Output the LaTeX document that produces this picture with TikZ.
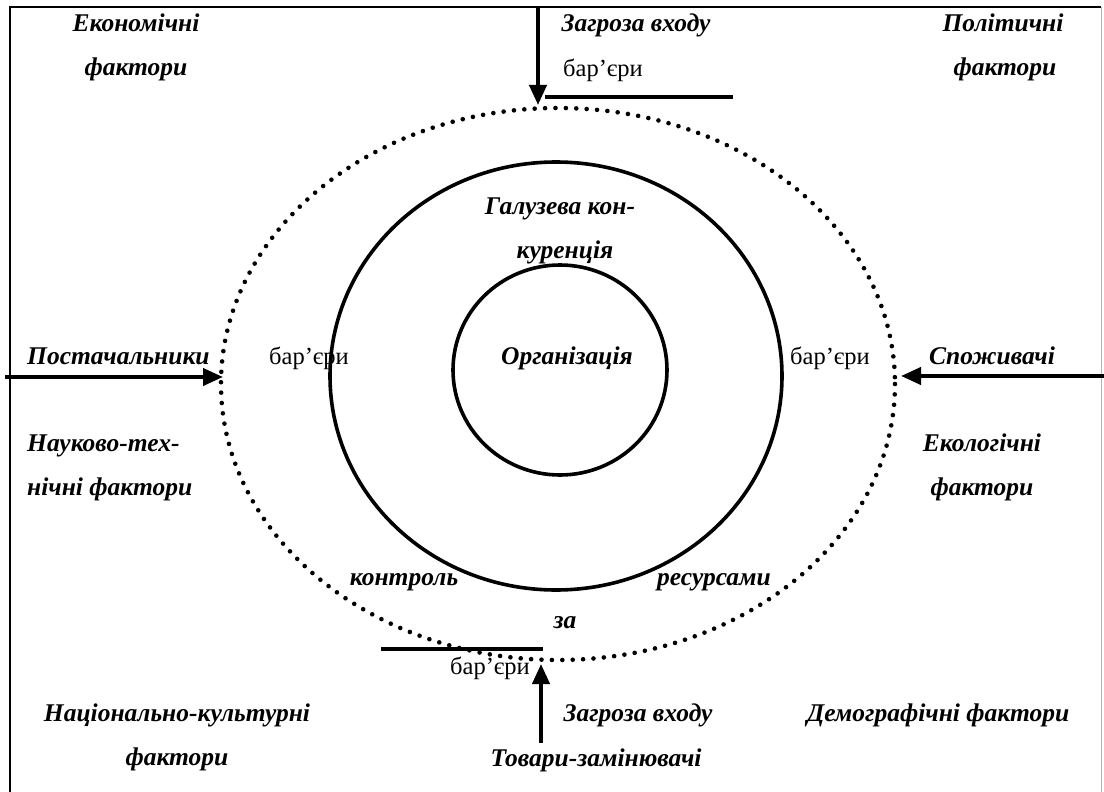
\documentclass[tikz,border=0pt]{standalone}
\usepackage{fontspec}
\setmainfont{Liberation Serif}
\usetikzlibrary{positioning}
\usetikzlibrary{arrows.meta}
\tikzset{
    x=1pt, y=-1pt,
    factor/.style={
        font=\fontsize{25.5}{30}\selectfont\bfseries\itshape,
        inner sep=0pt,
        anchor=base
    },
    barrier/.style={
        font=\fontsize{24.5}{29}\selectfont,
        inner sep=0pt,
        anchor=base
    },
    ring/.style={
        draw,
        line width=3.6pt
    },
    dotring/.style={
        draw,
        line width=4.6pt,
        line cap=round,
        dash pattern=on 0pt off 10.4pt
    },
    force/.style={
        draw,
        line width=4pt,
        -{Triangle[length=20pt,width=17pt]}
    },
    wall/.style={
        draw,
        line width=4pt
    }
}

\begin{document}
\begin{tikzpicture}
    \useasboundingbox (0,0) rectangle (1104,792);
    % frame
    \draw[line width=2pt] (10,795) -- (10,7) -- (1101,7);
    \draw[line width=0.8pt, gray!60] (1101,7) -- (1101,795);

    % environment rings
    \draw[dotring] (558,384) ellipse [x radius=337, y radius=276];
    \draw[ring] (556,376) ellipse [x radius=226, y radius=214];
    \draw[ring] (560,370) ellipse [x radius=107, y radius=105];

    % corner factors
    \node[factor] (econ) at (136,32) {Економічні};
    \node[factor] (econf) at (136,76) {фактори};
    \node[factor] (pol) at (1003,32) {Політичні};
    \node[factor] (polf) at (1005,76) {фактори};
    \node[factor, anchor=base west] (sci) at (27,451) {Науково-тех-};
    \node[factor, anchor=base west] (scif) at (27,495) {нічні фактори};
    \node[factor] (eco) at (982,451) {Екологічні};
    \node[factor] (ecof) at (982,495) {фактори};
    \node[factor] (nat) at (177,721) {Національно-культурні};
    \node[factor] (natf) at (177,765) {фактори};
    \node[factor] (dem) at (938,721) {Демографічні фактори};

    % inner labels
    \node[factor] (ind) at (560,214) {Галузева кон-};
    \node[factor] (indb) at (565,258) {куренція};
    \node[factor] (org) at (567,364) {Організація};
    \node[factor] (ctrl) at (404,585) {контроль};
    \node[factor] (res) at (714,585) {ресурсами};
    \node[factor] (za) at (565,628) {за};

    % forces
    \node[factor] (threatTop) at (636,32) {Загроза входу};
    \node[barrier] (barTop) at (603,77) {бар’єри};
    \node[factor, anchor=base west] (sup) at (27,364) {Постачальники};
    \node[barrier] (barLeft) at (309,364) {бар’єри};
    \node[barrier] (barRight) at (830,364) {бар’єри};
    \node[factor] (cons) at (992,364) {Споживачі};
    \node[barrier] (barBot) at (490,674) {бар’єри};
    \node[factor] (threatBot) at (638,721) {Загроза входу};
    \node[factor] (subst) at (596,766) {Товари-замінювачі};

    \coordinate (topFrom) at (538,7);
    \coordinate (topTo) at (538,105);
    \coordinate (leftFrom) at (5,377);
    \coordinate (leftTo) at (223,377);
    \coordinate (rightFrom) at (1104,376);
    \coordinate (rightTo) at (901,376);
    \coordinate (botFrom) at (541,743);
    \coordinate (botTo) at (541,664);
    \coordinate (wallTopA) at (545,97);
    \coordinate (wallTopB) at (733,97);
    \coordinate (wallBotA) at (381,649);
    \coordinate (wallBotB) at (543,649);

    \draw[force] (topFrom) -- (topTo);
    \draw[force] (leftFrom) -- (leftTo);
    \draw[force] (rightFrom) -- (rightTo);
    \draw[force] (botFrom) -- (botTo);
    \draw[wall] (wallTopA) -- (wallTopB);
    \draw[wall] (wallBotA) -- (wallBotB);
\end{tikzpicture}
\end{document}
